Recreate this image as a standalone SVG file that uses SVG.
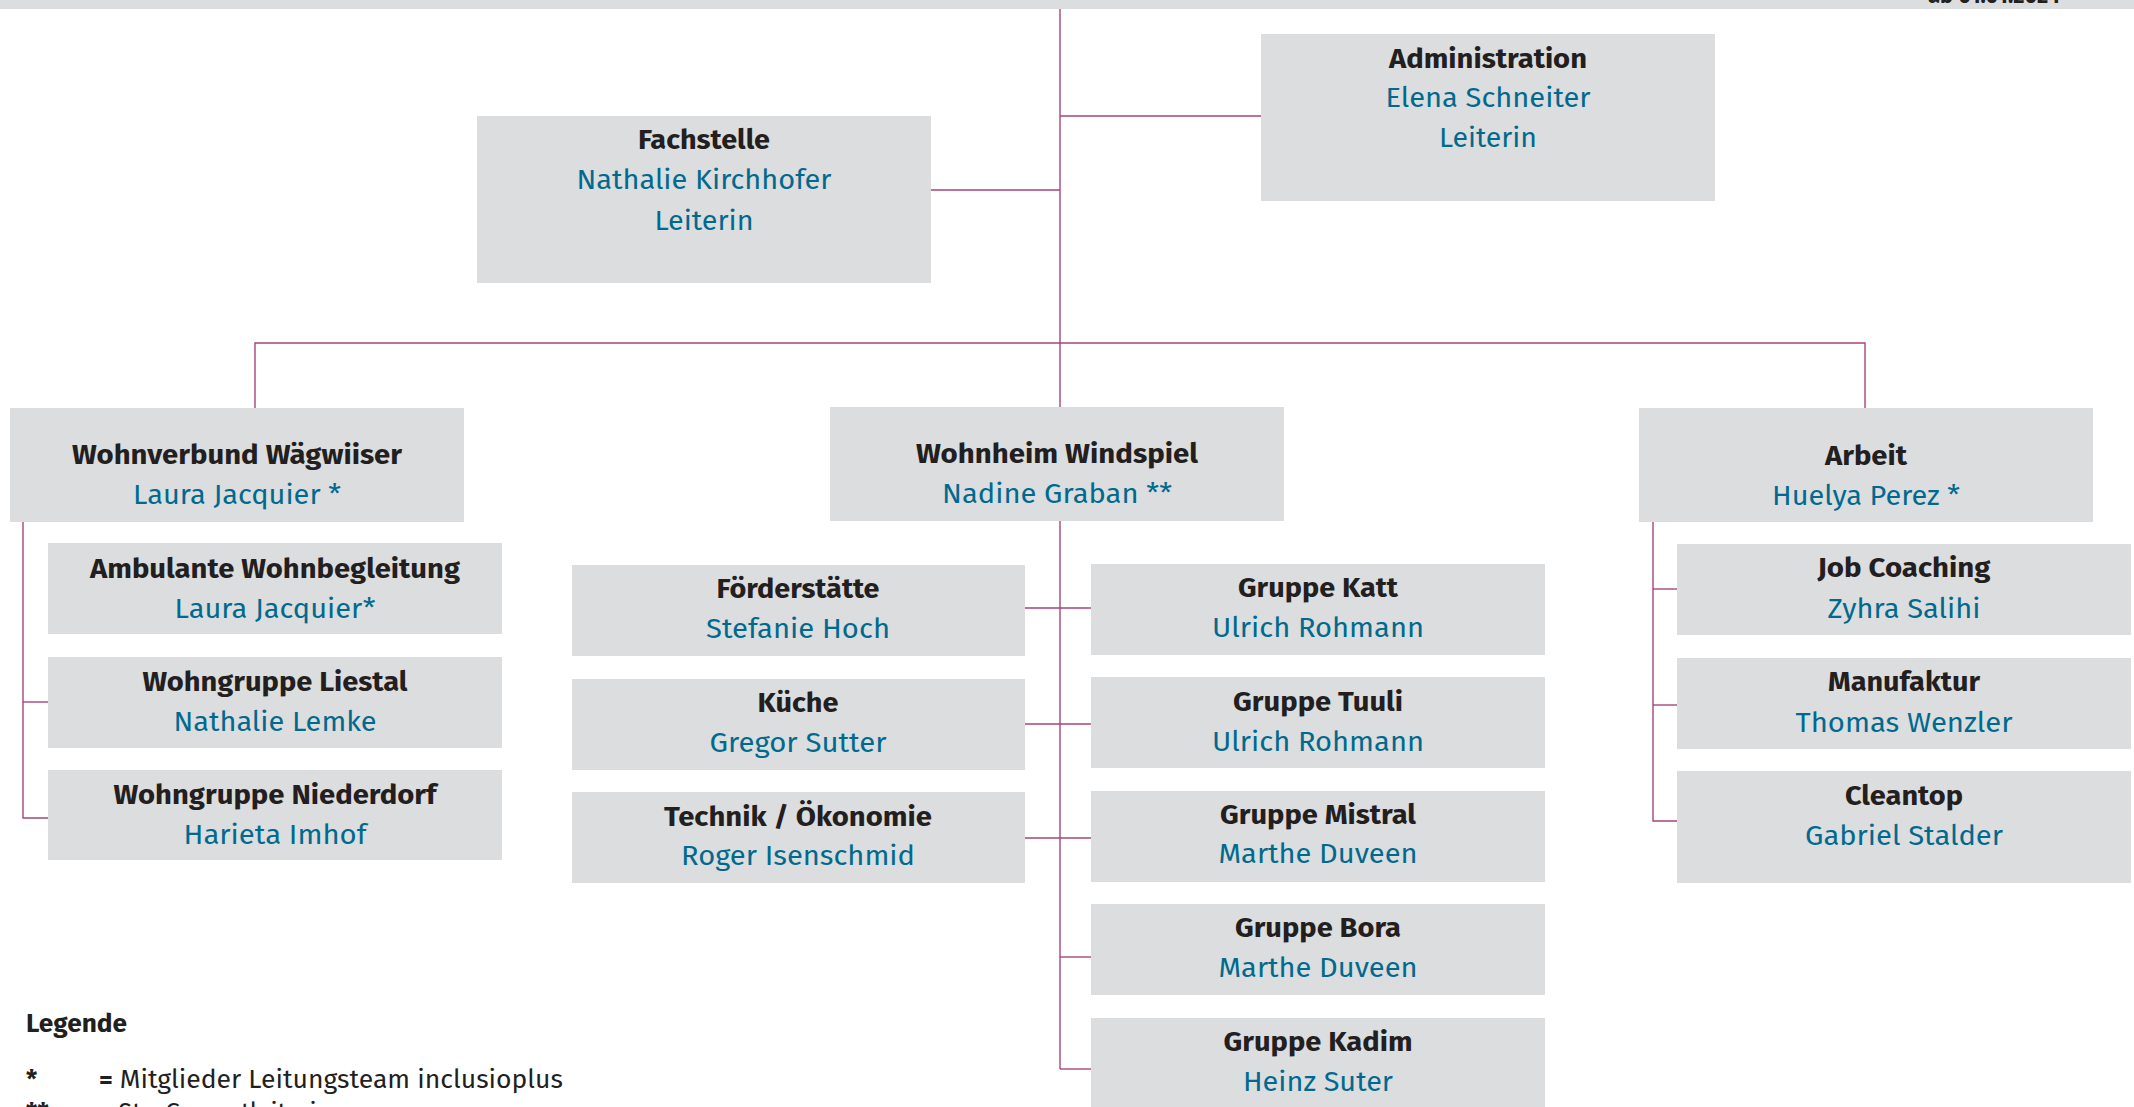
<svg xmlns="http://www.w3.org/2000/svg" width="2134" height="1107" viewBox="0 0 2134 1107">
<style>
  .box { fill: #dcdddf; }
  .t { font-family: "Fira Sans", "Noto Sans", "Open Sans", sans-serif; font-size: 28px; font-weight: 700; fill: #231f20; text-anchor: middle; }
  .n { font-family: "Fira Sans", "Noto Sans", "Open Sans", sans-serif; font-size: 28px; font-weight: 400; fill: #006a8e; text-anchor: middle; }
  .c { stroke: #a6457a; stroke-width: 1.4; fill: none; }
  .lg { font-family: "Fira Sans", "Noto Sans", "Open Sans", sans-serif; font-size: 25px; fill: #231f20; }
</style>
<rect x="0" y="0" width="2134" height="1107" fill="#ffffff"/>
<rect x="0" y="0" width="2134" height="9" class="box"/>
<text x="1928" y="3" class="lg" style="font-weight:700;font-size:24px" textLength="132" lengthAdjust="spacingAndGlyphs">ab 01.01.2024</text>

<g id="connectors">
  <line class="c" x1="1060" y1="9" x2="1060" y2="1069"/>
  <line class="c" x1="1060" y1="116" x2="1261" y2="116"/>
  <line class="c" x1="931" y1="190" x2="1060" y2="190"/>
  <polyline class="c" points="255,408 255,343 1865,343 1865,408"/>
  <polyline class="c" points="23,522 23,818 48,818"/>
  <line class="c" x1="23" y1="702" x2="48" y2="702"/>
  <polyline class="c" points="1653,522 1653,821 1677,821"/>
  <line class="c" x1="1653" y1="589" x2="1677" y2="589"/>
  <line class="c" x1="1653" y1="705" x2="1677" y2="705"/>
  <line class="c" x1="1025" y1="608" x2="1091" y2="608"/>
  <line class="c" x1="1025" y1="724" x2="1091" y2="724"/>
  <line class="c" x1="1025" y1="838" x2="1091" y2="838"/>
  <line class="c" x1="1060" y1="957" x2="1091" y2="957"/>
  <line class="c" x1="1060" y1="1069" x2="1091" y2="1069"/>
</g>

<g id="fachstelle">
  <rect class="box" x="477" y="116" width="454" height="167"/>
  <text class="t" x="704" y="149" textLength="132" lengthAdjust="spacingAndGlyphs">Fachstelle</text>
  <text class="n" x="704" y="189" textLength="255" lengthAdjust="spacingAndGlyphs">Nathalie Kirchhofer</text>
  <text class="n" x="704" y="230" textLength="99" lengthAdjust="spacingAndGlyphs">Leiterin</text>
</g>
<g id="administration">
  <rect class="box" x="1261" y="34" width="454" height="167"/>
  <text class="t" x="1488" y="68" textLength="198" lengthAdjust="spacingAndGlyphs">Administration</text>
  <text class="n" x="1488" y="107" textLength="205" lengthAdjust="spacingAndGlyphs">Elena Schneiter</text>
  <text class="n" x="1488" y="147" textLength="98" lengthAdjust="spacingAndGlyphs">Leiterin</text>
</g>

<g id="wohnverbund">
  <rect class="box" x="10" y="408" width="454" height="114"/>
  <text class="t" x="237" y="464" textLength="330" lengthAdjust="spacingAndGlyphs">Wohnverbund Wägwiiser</text>
  <text class="n" x="237" y="504" textLength="208" lengthAdjust="spacingAndGlyphs">Laura Jacquier *</text>
</g>
<g id="ambulante">
  <rect class="box" x="48" y="543" width="454" height="91"/>
  <text class="t" x="275" y="578" textLength="370" lengthAdjust="spacingAndGlyphs">Ambulante Wohnbegleitung</text>
  <text class="n" x="275" y="618" textLength="201" lengthAdjust="spacingAndGlyphs">Laura Jacquier*</text>
</g>
<g id="liestal">
  <rect class="box" x="48" y="657" width="454" height="91"/>
  <text class="t" x="275" y="691" textLength="265" lengthAdjust="spacingAndGlyphs">Wohngruppe Liestal</text>
  <text class="n" x="275" y="731" textLength="203" lengthAdjust="spacingAndGlyphs">Nathalie Lemke</text>
</g>
<g id="niederdorf">
  <rect class="box" x="48" y="770" width="454" height="90"/>
  <text class="t" x="275" y="804" textLength="323" lengthAdjust="spacingAndGlyphs">Wohngruppe Niederdorf</text>
  <text class="n" x="275" y="844" textLength="183" lengthAdjust="spacingAndGlyphs">Harieta Imhof</text>
</g>

<g id="windspiel">
  <rect class="box" x="830" y="407" width="454" height="114"/>
  <text class="t" x="1057" y="463" textLength="282" lengthAdjust="spacingAndGlyphs">Wohnheim Windspiel</text>
  <text class="n" x="1057" y="503" textLength="230" lengthAdjust="spacingAndGlyphs">Nadine Graban **</text>
</g>
<g id="foerderstaette">
  <rect class="box" x="572" y="565" width="453" height="91"/>
  <text class="t" x="798" y="598" textLength="163" lengthAdjust="spacingAndGlyphs">Förderstätte</text>
  <text class="n" x="798" y="638" textLength="184" lengthAdjust="spacingAndGlyphs">Stefanie Hoch</text>
</g>
<g id="kueche">
  <rect class="box" x="572" y="679" width="453" height="91"/>
  <text class="t" x="798" y="712" textLength="81" lengthAdjust="spacingAndGlyphs">Küche</text>
  <text class="n" x="798" y="752" textLength="177" lengthAdjust="spacingAndGlyphs">Gregor Sutter</text>
</g>
<g id="technik">
  <rect class="box" x="572" y="792" width="453" height="91"/>
  <text class="t" x="798" y="826" textLength="268" lengthAdjust="spacingAndGlyphs">Technik / Ökonomie</text>
  <text class="n" x="798" y="865" textLength="234" lengthAdjust="spacingAndGlyphs">Roger Isenschmid</text>
</g>
<g id="katt">
  <rect class="box" x="1091" y="564" width="454" height="91"/>
  <text class="t" x="1318" y="597" textLength="160" lengthAdjust="spacingAndGlyphs">Gruppe Katt</text>
  <text class="n" x="1318" y="637" textLength="212" lengthAdjust="spacingAndGlyphs">Ulrich Rohmann</text>
</g>
<g id="tuuli">
  <rect class="box" x="1091" y="677" width="454" height="91"/>
  <text class="t" x="1318" y="711" textLength="170" lengthAdjust="spacingAndGlyphs">Gruppe Tuuli</text>
  <text class="n" x="1318" y="751" textLength="212" lengthAdjust="spacingAndGlyphs">Ulrich Rohmann</text>
</g>
<g id="mistral">
  <rect class="box" x="1091" y="791" width="454" height="91"/>
  <text class="t" x="1318" y="824" textLength="196" lengthAdjust="spacingAndGlyphs">Gruppe Mistral</text>
  <text class="n" x="1318" y="863" textLength="199" lengthAdjust="spacingAndGlyphs">Marthe Duveen</text>
</g>
<g id="bora">
  <rect class="box" x="1091" y="904" width="454" height="91"/>
  <text class="t" x="1318" y="937" textLength="166" lengthAdjust="spacingAndGlyphs">Gruppe Bora</text>
  <text class="n" x="1318" y="977" textLength="199" lengthAdjust="spacingAndGlyphs">Marthe Duveen</text>
</g>
<g id="kadim">
  <rect class="box" x="1091" y="1018" width="454" height="91"/>
  <text class="t" x="1318" y="1051" textLength="189" lengthAdjust="spacingAndGlyphs">Gruppe Kadim</text>
  <text class="n" x="1318" y="1091" textLength="150" lengthAdjust="spacingAndGlyphs">Heinz Suter</text>
</g>

<g id="arbeit">
  <rect class="box" x="1639" y="408" width="454" height="114"/>
  <text class="t" x="1866" y="465" textLength="82" lengthAdjust="spacingAndGlyphs">Arbeit</text>
  <text class="n" x="1866" y="505" textLength="188" lengthAdjust="spacingAndGlyphs">Huelya Perez *</text>
</g>
<g id="jobcoaching">
  <rect class="box" x="1677" y="544" width="454" height="91"/>
  <text class="t" x="1904" y="577" textLength="173" lengthAdjust="spacingAndGlyphs">Job Coaching</text>
  <text class="n" x="1904" y="618" textLength="153" lengthAdjust="spacingAndGlyphs">Zyhra Salihi</text>
</g>
<g id="manufaktur">
  <rect class="box" x="1677" y="658" width="454" height="91"/>
  <text class="t" x="1904" y="691" textLength="152" lengthAdjust="spacingAndGlyphs">Manufaktur</text>
  <text class="n" x="1904" y="732" textLength="217" lengthAdjust="spacingAndGlyphs">Thomas Wenzler</text>
</g>
<g id="cleantop">
  <rect class="box" x="1677" y="771" width="454" height="112"/>
  <text class="t" x="1904" y="805" textLength="118" lengthAdjust="spacingAndGlyphs">Cleantop</text>
  <text class="n" x="1904" y="845" textLength="198" lengthAdjust="spacingAndGlyphs">Gabriel Stalder</text>
</g>

<g id="legend">
  <text class="lg" x="26" y="1032" style="font-weight:700" textLength="101" lengthAdjust="spacingAndGlyphs">Legende</text>
  <text class="lg" x="26" y="1088" style="font-weight:700">*</text>
  <text class="lg" x="99" y="1088" textLength="464" lengthAdjust="spacingAndGlyphs"><tspan style="font-weight:700">=</tspan> Mitglieder Leitungsteam inclusioplus</text>
  <text class="lg" x="26" y="1121" style="font-weight:700">**</text>
  <text class="lg" x="99" y="1121"><tspan style="font-weight:700">=</tspan> Stv. Gesamtleiterin</text>
</g>
</svg>
